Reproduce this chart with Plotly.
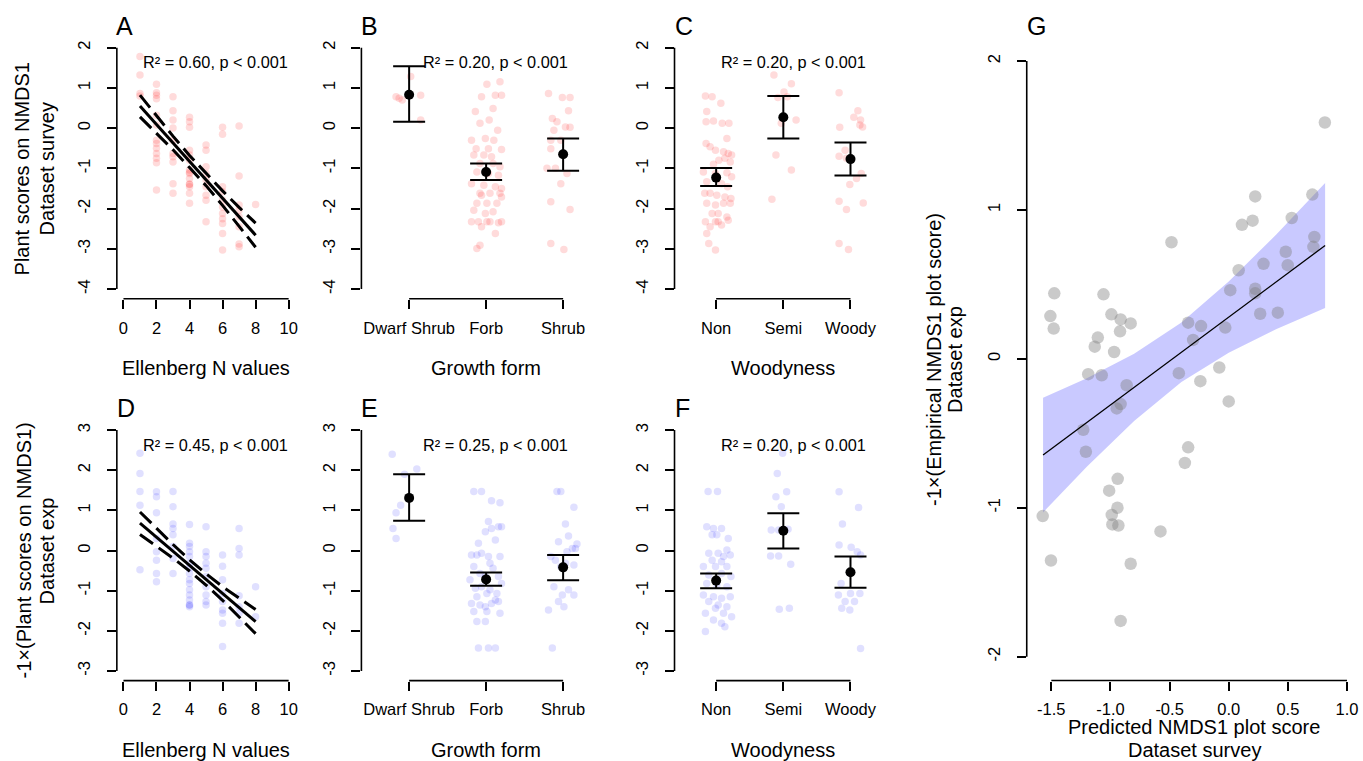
import plotly.graph_objects as go

W, H = 1363, 761
FONT = "Arial, Liberation Sans, Helvetica, sans-serif"

# ---------------- DATA ----------------
# Panel A: Ellenberg N vs survey NMDS1 score (one point per species)
a_n = [1, 1, 1, 1,
       2, 2, 2, 2, 2, 2, 2, 2, 2, 2, 2, 2, 2,
       3, 3, 3, 3, 3, 3, 3, 3, 3, 3,
       4, 4, 4, 4, 4, 4, 4, 4, 4, 4, 4, 4, 4, 4, 4,
       5, 5, 5, 5, 5, 5, 5, 5, 5,
       6, 6, 6, 6, 6, 6, 6, 6, 6, 6, 6,
       7, 7, 7, 7, 7, 7, 7, 7,
       8]
a_score = [1.78, 1.32, 0.86, 0.80,
           1.09, 0.88, 0.82, 0.73, 0.32, 0.08, -0.30, -0.38, -0.50, -0.63, -0.75, -0.86, -1.54,
           0.78, 0.43, 0.20, 0.00, -0.30, -0.63, -0.71, -0.84, -1.38, -1.62,
           0.27, 0.16, 0.02, -0.55, -0.67, -0.80, -1.04, -1.13, -1.10, -1.25, -1.39, -1.40, -1.46, -1.62, -1.87,
           -0.42, -0.55, -0.96, -1.13, -1.29, -1.46, -1.67, -1.79, -2.33,
           0.02, -0.15, -1.46, -1.58, -1.79, -1.96, -2.12, -2.25, -2.37, -2.62, -3.03,
           0.05, -1.19, -1.91, -2.04, -2.20, -2.45, -2.88, -2.95,
           -1.90]
a_fit_x = [1, 2, 3, 4, 5, 6, 7, 8]
a_fit = [0.55, 0.09, -0.37, -0.83, -1.28, -1.74, -2.20, -2.66]
a_upr = [0.82, 0.30, -0.20, -0.68, -1.13, -1.56, -1.97, -2.36]
a_lwr = [0.28, -0.12, -0.54, -0.98, -1.43, -1.92, -2.43, -2.96]

# Panel D: Ellenberg N vs -1 x exp NMDS1 score
d_n = [1, 1, 1, 1, 1,
       2, 2, 2, 2, 2, 2, 2, 2,
       3, 3, 3, 3, 3, 3, 3, 3,
       4, 4, 4, 4, 4, 4, 4, 4, 4, 4, 4, 4, 4, 4, 4, 4,
       5, 5, 5, 5, 5, 5, 5, 5, 5, 5,
       6, 6, 6, 6, 6, 6, 6, 6, 6,
       7, 7, 7, 7, 7, 7, 7,
       8, 8]
d_score = [2.42, 1.92, 1.47, 1.13, -0.48,
           1.46, 1.34, 0.94, 0.30, -0.03, -0.24, -0.57, -0.78,
           1.47, 1.09, 0.66, 0.55, 0.39, 0.10, -0.20, -0.57,
           0.65, 0.18, 0.10, -0.03, -0.15, -0.32, -0.44, -0.57, -0.73, -0.82, -0.98, -1.11, -1.23, -1.36, -1.40, -1.36,
           0.59, -0.03, -0.15, -0.32, -0.44, -0.65, -0.90, -1.11, -1.27, -1.36,
           -0.11, -0.39, -0.73, -1.07, -1.27, -1.48, -1.56, -1.81, -2.39,
           0.55, 0.05, -0.11, -1.13, -1.40, -1.56, -1.81,
           -0.90, -1.65]
d_fit_x = [1, 2, 3, 4, 5, 6, 7, 8]
d_fit = [0.68, 0.33, -0.02, -0.37, -0.72, -1.07, -1.42, -1.77]
d_upr = [0.96, 0.55, 0.15, -0.23, -0.58, -0.90, -1.19, -1.47]
d_lwr = [0.40, 0.11, -0.19, -0.51, -0.86, -1.24, -1.65, -2.07]

growth_forms = ["Dwarf Shrub", "Forb", "Shrub"]
woody_classes = ["Non", "Semi", "Woody"]

# Panel B: survey scores by growth form (jitter offsets)
b_ds_jit = [-0.17, -0.13, -0.09, 0.02, 0.15, 0.15]
b_ds_val = [0.78, 0.74, 0.70, 1.28, 0.82, 0.20]
b_fo_jit = [0.01, 0.18, 0.12, -0.06, 0.20, -0.14, 0.09, -0.08, 0.04, 0.15,
            -0.19, -0.01, 0.10, -0.13, 0.03, 0.20, -0.16, -0.03, 0.07, -0.08,
            0.09, 0.18, -0.12, 0.03, 0.16, -0.19, -0.03, 0.12, 0.20, -0.08,
            0.05, 0.18, -0.06, -0.12, 0.01, 0.14, 0.20, -0.16, -0.01, 0.09,
            -0.10, 0.05, 0.16, -0.19, -0.06, 0.01, 0.12, 0.20, -0.12, -0.08]
b_fo_val = [1.09, 1.15, 0.82, 0.78, 0.82, 0.41, 0.49, 0.12, 0.20, -0.05,
            -0.30, -0.26, -0.30, -0.51, -0.51, -0.53, -0.67, -0.67, -0.71, -0.88,
            -0.88, -0.96, -1.09, -1.13, -1.17, -1.38, -1.42, -1.46, -1.50, -1.62,
            -1.62, -1.62, -1.67, -1.87, -1.87, -1.87, -1.71, -2.04, -2.12, -2.08,
            -2.33, -2.33, -2.35, -2.33, -2.45, -2.33, -2.62, -2.33, -2.99, -2.91]
b_sh_jit = [-0.19, -0.01, 0.09, 0.07, -0.14, -0.08, 0.03, 0.09, -0.12, -0.16,
            -0.03, -0.16, -0.10, -0.21, 0.05, -0.03, -0.16, 0.09, -0.16, 0.01]
b_sh_val = [0.86, 0.76, 0.76, 0.43, 0.24, 0.16, 0.03, 0.02, -0.05, -0.30,
            -0.30, -0.51, -1.00, -1.00, -1.13, -1.38, -1.83, -2.02, -2.87, -3.02]
b_mean = [0.83, -1.09, -0.65]
b_upper = [1.54, -0.88, -0.26]
b_lower = [0.16, -1.29, -1.06]

# Panel C: survey scores by woodyness
c_no_jit = [-0.16, -0.06, -0.14, 0.07, -0.15, -0.04, 0.19, 0.09, 0.16, -0.15,
            -0.09, -0.01, 0.11, 0.18, 0.23, 0.13, 0.04, -0.04, 0.21, -0.19,
            -0.01, 0.16, 0.23, -0.14, 0.08, 0.17, -0.17, -0.09, 0.01, 0.13,
            0.22, -0.14, -0.01, 0.11, 0.21, -0.06, 0.03, 0.16, -0.16, -0.01,
            0.08, -0.09, 0.03, 0.18, -0.14, -0.11, -0.01]
c_no_val = [0.80, 0.78, 0.41, 0.62, 0.16, 0.18, 0.12, 0.12, -0.26, -0.38,
            -0.46, -0.55, -0.59, -0.63, -0.67, -0.75, -0.80, -0.90, -0.84, -1.09,
            -1.13, -1.11, -1.21, -1.33, -1.38, -1.46, -1.62, -1.62, -1.67, -1.71,
            -1.75, -1.87, -1.91, -1.87, -1.87, -2.12, -2.12, -2.21, -2.33, -2.33,
            -2.41, -2.45, -2.33, -2.29, -2.62, -2.87, -3.03]
c_se_jit = [-0.14, 0.12, -0.08, 0.06, 0.01, 0.19, -0.03, -0.11, 0.12, -0.17]
c_se_val = [1.32, 1.10, 0.76, 0.78, 0.90, 0.20, 0.12, -0.67, -1.04, -1.77]
c_wo_jit = [-0.17, 0.11, 0.05, 0.15, 0.14, 0.18, -0.16, -0.08, -0.17, -0.06,
            0.16, 0.09, -0.01, -0.17, 0.19, -0.06, -0.17, -0.03]
c_wo_val = [0.88, 0.43, 0.27, 0.20, 0.08, 0.03, 0.02, -0.55, -0.70, -0.75,
            -1.13, -1.25, -1.40, -1.82, -1.86, -2.02, -2.87, -3.02]
c_mean = [-1.23, 0.27, -0.77]
c_upper = [-0.99, 0.80, -0.36]
c_lower = [-1.44, -0.26, -1.18]

# Panel E: exp scores by growth form
e_ds_jit = [-0.22, 0.10, -0.06, -0.11, -0.17, -0.21, -0.17]
e_ds_val = [2.40, 2.03, 1.90, 1.13, 0.94, 0.55, 0.30]
e_fo_jit = [-0.16, -0.06, 0.07, 0.18, 0.03, 0.16, 0.07, 0.20, -0.01, -0.10,
            0.12, -0.19, -0.12, -0.06, 0.03, 0.18, 0.05, 0.09, -0.16, -0.08,
            0.16, -0.01, -0.21, 0.20, -0.14, -0.06, 0.05, 0.14, -0.12, 0.01,
            0.12, -0.19, -0.08, -0.01, 0.07, 0.16, -0.16, 0.01, 0.18, -0.12,
            -0.01, -0.10, 0.03, 0.12]
e_fo_val = [1.47, 1.47, 1.24, 1.19, 0.72, 0.59, 0.55, 0.59, 0.47, 0.18,
            0.26, -0.11, -0.11, -0.07, -0.15, -0.15, -0.32, -0.44, -0.40, -0.57,
            -0.65, -0.65, -0.73, -0.82, -0.94, -0.90, -0.98, -1.07, -1.15, -1.07,
            -1.23, -1.32, -1.36, -1.40, -1.32, -1.27, -1.52, -1.52, -1.56, -1.77,
            -1.77, -2.43, -2.43, -2.43]
e_sh_jit = [-0.08, -0.03, 0.14, 0.03, 0.07, -0.06, 0.18, 0.12, 0.05, 0.16,
            -0.16, -0.10, 0.03, 0.14, -0.03, -0.12, 0.07, -0.01, 0.14, -0.06,
            -0.19, 0.01, -0.14]
e_sh_val = [1.47, 1.47, 1.08, 0.66, 0.36, 0.22, 0.16, 0.05, -0.03, 0.05,
            -0.15, -0.24, -0.32, -0.36, -0.40, -0.90, -0.98, -1.11, -1.11, -1.27,
            -1.48, -1.40, -2.43]
e_mean = [1.31, -0.72, -0.42]
e_upper = [1.90, -0.55, -0.11]
e_lower = [0.74, -0.88, -0.74]

# Panel F: exp scores by woodyness
f_no_jit = [-0.12, 0.02, -0.14, -0.04, 0.08, -0.06, 0.01, 0.18, 0.16, -0.11,
            0.03, 0.11, 0.21, -0.06, 0.08, -0.19, -0.01, 0.16, -0.11, 0.08,
            0.22, -0.14, 0.01, 0.16, -0.19, -0.04, 0.08, 0.21, -0.11, 0.03,
            0.16, -0.01, -0.16, 0.11, 0.23, -0.04, -0.16, 0.08, 0.13]
f_no_val = [1.47, 1.47, 0.59, 0.55, 0.55, 0.39, 0.39, 0.30, 0.01, -0.07,
            -0.07, -0.15, -0.11, -0.24, -0.28, -0.40, -0.40, -0.40, -0.61, -0.57,
            -0.65, -0.82, -0.86, -0.90, -1.11, -1.15, -1.19, -1.15, -1.27, -1.36,
            -1.40, -1.44, -1.56, -1.56, -1.65, -1.73, -2.02, -1.81, -1.90]
f_se_jit = [-0.01, -0.09, 0.05, -0.11, -0.03, -0.18, -0.07, 0.07, -0.19, -0.07, 0.11, -0.06, 0.09]
f_se_val = [2.42, 1.92, 1.46, 1.34, 1.09, 0.51, 0.51, 0.53, -0.14, -0.14, -0.34, -1.46, -1.44]
f_wo_jit = [-0.17, 0.12, -0.12, -0.17, 0.01, 0.10, 0.15, -0.14, 0.00, 0.14, -0.18, -0.08, 0.06, -0.13, -0.01, 0.15]
f_wo_val = [1.46, 1.07, 0.66, 0.14, 0.08, -0.03, -0.11, -0.82, -1.07, -1.07, -1.11, -1.27, -1.27, -1.44, -1.48, -2.44]
f_mean = [-0.75, 0.49, -0.54]
f_upper = [-0.57, 0.93, -0.15]
f_lower = [-0.94, 0.05, -0.93]

# Panel G: predicted vs empirical plot scores
g_pred = [0.813, 0.707, 0.224, 0.202, 0.112, 0.533, -0.484, 0.724, 0.716, 0.482,
          0.499, 0.294, 0.084, 0.013, 0.224, 0.224, 0.266, 0.415, -0.029, -0.234,
          -0.343, -0.301, -0.080, -0.422, -1.475, -1.508, -1.480, -1.059, -0.992, -0.914,
          -0.829, -0.919, -1.107, -1.133, -0.969, -1.188, -1.074, -0.240, -0.863, -0.947,
          -0.914, -1.230, -1.208, 0.000, -0.343, -0.371, -0.939, -1.011, -0.941, -0.989,
          -0.984, -0.933, -0.577, -1.573, -1.503, -0.829, -0.914]
g_emp = [1.587, 1.103, 1.091, 0.928, 0.900, 0.946, 0.783, 0.819, 0.752, 0.719,
         0.629, 0.638, 0.595, 0.461, 0.471, 0.440, 0.303, 0.310, 0.210, 0.220,
         0.243, 0.127, -0.058, -0.096, 0.440, 0.287, 0.203, 0.433, 0.299, 0.265,
         0.238, 0.185, 0.143, 0.082, 0.046, -0.103, -0.110, -0.150, -0.177, -0.333,
         -0.304, -0.476, -0.624, -0.286, -0.594, -0.699, -0.806, -0.885, -1.000, -1.048,
         -1.112, -1.119, -1.159, -1.056, -1.354, -1.376, -1.760]
g_fit_x = [-1.57, -1.2, -0.8, -0.4, 0.0, 0.4, 0.815]
g_fit = [-0.646, -0.428, -0.192, 0.044, 0.280, 0.516, 0.761]
g_upr = [-0.261, -0.131, 0.034, 0.244, 0.519, 0.834, 1.181]
g_lwr = [-1.031, -0.725, -0.418, -0.156, 0.041, 0.198, 0.341]

# ---------------- LAYOUT GEOMETRY (pixels of the plotting regions) ----------------
panels = [
    # name, x pixel span, y pixel span, x range, y range
    ("A", (117.1, 295.9), (38.0, 298.7), (-0.4, 10.4), (-4.24, 2.24)),
    ("B", (362.2, 612.2), (38.0, 298.7), (0.38, 3.62), (-4.24, 2.24)),
    ("C", (676.0, 894.1), (38.0, 298.7), (0.38, 3.62), (-4.24, 2.24)),
    ("D", (117.1, 295.9), (420.4, 680.6), (-0.4, 10.4), (-3.24, 3.24)),
    ("E", (362.2, 612.2), (420.4, 680.6), (0.38, 3.62), (-3.24, 3.24)),
    ("F", (676.0, 894.1), (420.4, 680.6), (0.38, 3.62), (-3.24, 3.24)),
    ("G", (1029.0, 1363.0), (37.2, 680.5), (-1.708, 1.110), (-2.16, 2.16)),
]

ell_ticks = [0, 2, 4, 6, 8, 10]
cat_ticks = [1, 2, 3]
y_ticks_top = [-4, -3, -2, -1, 0, 1, 2]
y_ticks_bot = [-3, -2, -1, 0, 1, 2, 3]
g_xticks = [-1.5, -1.0, -0.5, 0.0, 0.5, 1.0]
g_xlabels = ["-1.5", "-1.0", "-0.5", "0.0", "0.5", "1.0"]
g_yticks = [-2, -1, 0, 1, 2]

xtick_spec = {
    "A": (ell_ticks, [str(v) for v in ell_ticks]),
    "B": (cat_ticks, growth_forms),
    "C": (cat_ticks, woody_classes),
    "D": (ell_ticks, [str(v) for v in ell_ticks]),
    "E": (cat_ticks, growth_forms),
    "F": (cat_ticks, woody_classes),
    "G": (g_xticks, g_xlabels),
}
ytick_spec = {
    "A": y_ticks_top, "B": y_ticks_top, "C": y_ticks_top,
    "D": y_ticks_bot, "E": y_ticks_bot, "F": y_ticks_bot,
    "G": g_yticks,
}


def pxx(x):
    return x / W


def pxy(y):
    return 1 - y / H


fig = go.Figure()
layout = dict(
    width=W, height=H, autosize=False,
    margin=dict(l=0, r=0, t=0, b=0),
    paper_bgcolor="white", plot_bgcolor="white",
    showlegend=False, font=dict(family=FONT, color="black"),
)
shapes = []
annotations = []
axmap = {}

tickfont = dict(family=FONT, size=16.5, color="black")
for i, (name, xs, ys, xr, yr) in enumerate(panels, start=1):
    sfx = "" if i == 1 else str(i)
    axmap[name] = ("x" + sfx, "y" + sfx)
    xt, xl = xtick_spec[name]
    yt = ytick_spec[name]
    layout["xaxis" + sfx] = dict(
        domain=[pxx(xs[0]), pxx(xs[1])], range=list(xr), anchor="y" + sfx,
        showgrid=False, zeroline=False, showline=False,
        ticks="outside", ticklen=9, tickwidth=1.6, tickcolor="black",
        tickvals=xt, ticktext=xl, tickfont=tickfont, ticklabelstandoff=5,
        tickangle=0, fixedrange=True,
    )
    layout["yaxis" + sfx] = dict(
        domain=[pxy(ys[1]), pxy(ys[0])], range=list(yr), anchor="x" + sfx,
        showgrid=False, zeroline=False, showline=False,
        ticks="outside", ticklen=9, tickwidth=1.6, tickcolor="black",
        tickvals=yt, ticktext=[str(v) for v in yt], tickangle=-90,
        tickfont=tickfont, ticklabelstandoff=10, fixedrange=True,
    )
    # R-style axis lines spanning first to last tick
    shapes.append(dict(type="line", xref="x" + sfx, yref="y" + sfx + " domain",
                       x0=xt[0], x1=xt[-1], y0=0, y1=0,
                       line=dict(color="black", width=1.6)))
    shapes.append(dict(type="line", xref="x" + sfx + " domain", yref="y" + sfx,
                       x0=0, x1=0, y0=yt[0], y1=yt[-1],
                       line=dict(color="black", width=1.6)))

RED = "rgba(255,0,0,0.14)"
BLUE = "rgba(0,0,255,0.12)"


def add_pts(name, xs, ys, color, size=7.5):
    xa, ya = axmap[name]
    fig.add_trace(go.Scatter(x=xs, y=ys, mode="markers", xaxis=xa, yaxis=ya,
                             marker=dict(color=color, size=size, line=dict(width=0)),
                             hoverinfo="skip"))


def add_fit(name, fx, fit, upr, lwr):
    xa, ya = axmap[name]
    for arr, dash in ((upr, "16px,7px"), (lwr, "16px,7px"), (fit, "solid")):
        fig.add_trace(go.Scatter(x=fx, y=arr, mode="lines", xaxis=xa, yaxis=ya,
                                 line=dict(color="black", width=3, dash=dash),
                                 hoverinfo="skip"))


def add_groups(name, groups, color, mean, upper, lower):
    xa, ya = axmap[name]
    for k, (jit, val) in enumerate(groups, start=1):
        add_pts(name, [k + j for j in jit], val, color)
    fig.add_trace(go.Scatter(
        x=cat_ticks, y=mean, mode="markers", xaxis=xa, yaxis=ya,
        marker=dict(color="black", size=10),
        error_y=dict(type="data", symmetric=False,
                     array=[u - m for u, m in zip(upper, mean)],
                     arrayminus=[m - l for m, l in zip(mean, lower)],
                     color="black", thickness=2, width=16),
        hoverinfo="skip"))


# Panels A and D
add_pts("A", a_n, a_score, RED)
add_fit("A", a_fit_x, a_fit, a_upr, a_lwr)
add_pts("D", d_n, d_score, BLUE)
add_fit("D", d_fit_x, d_fit, d_upr, d_lwr)

# Panels B, C, E, F
add_groups("B", [(b_ds_jit, b_ds_val), (b_fo_jit, b_fo_val), (b_sh_jit, b_sh_val)],
           RED, b_mean, b_upper, b_lower)
add_groups("C", [(c_no_jit, c_no_val), (c_se_jit, c_se_val), (c_wo_jit, c_wo_val)],
           RED, c_mean, c_upper, c_lower)
add_groups("E", [(e_ds_jit, e_ds_val), (e_fo_jit, e_fo_val), (e_sh_jit, e_sh_val)],
           BLUE, e_mean, e_upper, e_lower)
add_groups("F", [(f_no_jit, f_no_val), (f_se_jit, f_se_val), (f_wo_jit, f_wo_val)],
           BLUE, f_mean, f_upper, f_lower)

# Panel G
xa, ya = axmap["G"]
fig.add_trace(go.Scatter(x=g_fit_x + g_fit_x[::-1], y=g_upr + g_lwr[::-1],
                         fill="toself", fillcolor="rgba(0,0,255,0.21)",
                         line=dict(width=0), mode="lines", xaxis=xa, yaxis=ya,
                         hoverinfo="skip"))
fig.add_trace(go.Scatter(x=g_pred, y=g_emp, mode="markers", xaxis=xa, yaxis=ya,
                         marker=dict(color="rgba(128,128,128,0.42)", size=12.5,
                                     line=dict(width=0)),
                         hoverinfo="skip"))
fig.add_trace(go.Scatter(x=g_fit_x, y=g_fit, mode="lines", xaxis=xa, yaxis=ya,
                         line=dict(color="black", width=1.3), hoverinfo="skip"))


# ---------------- TEXT ----------------
def note(text, x, y, size, angle=0):
    annotations.append(dict(text=text, x=pxx(x), y=pxy(y), xref="paper", yref="paper",
                            showarrow=False, xanchor="center", yanchor="middle",
                            textangle=angle, font=dict(family=FONT, size=size, color="black")))


letters = [("A", 125, 26), ("B", 370, 26), ("C", 686, 26), ("D", 126, 408),
           ("E", 370, 408), ("F", 684, 408), ("G", 1039, 26)]
for t, x, y in letters:
    note(t, x, y, 25)

stats = [("0.60", 216, 62), ("0.20", 497, 62), ("0.20", 795, 62),
         ("0.45", 216, 445), ("0.25", 497, 445), ("0.20", 795, 445)]
for r2, x, y in stats:
    note("R² = " + r2 + ", p &lt; 0.001", x, y, 16.3)

note("Ellenberg N values", 206.5, 368, 20)
note("Growth form", 487, 368, 20)
note("Woodyness", 785, 368, 20)
note("Ellenberg N values", 206.5, 750, 20)
note("Growth form", 487, 750, 20)
note("Woodyness", 785, 750, 20)
note("Plant scores on NMDS1", 22, 168.5, 20, -90)
note("Dataset survey", 47, 168.5, 20, -90)
note("-1×(Plant scores on NMDS1)", 24, 550.5, 20, -90)
note("Dataset exp", 47, 550.5, 20, -90)
note("-1×(Empirical NMDS1 plot score)", 936, 359, 20, -90)
note("Dataset exp", 957, 359, 20, -90)
note("Predicted NMDS1 plot score", 1197, 727, 20)
note("Dataset survey", 1197, 750, 20)

layout["shapes"] = shapes
layout["annotations"] = annotations
fig.update_layout(**layout)

fig.write_html("out.html", include_plotlyjs=True,
               config={"displayModeBar": False},
               post_script="document.body.style.margin='0';document.body.style.overflow='hidden';")
